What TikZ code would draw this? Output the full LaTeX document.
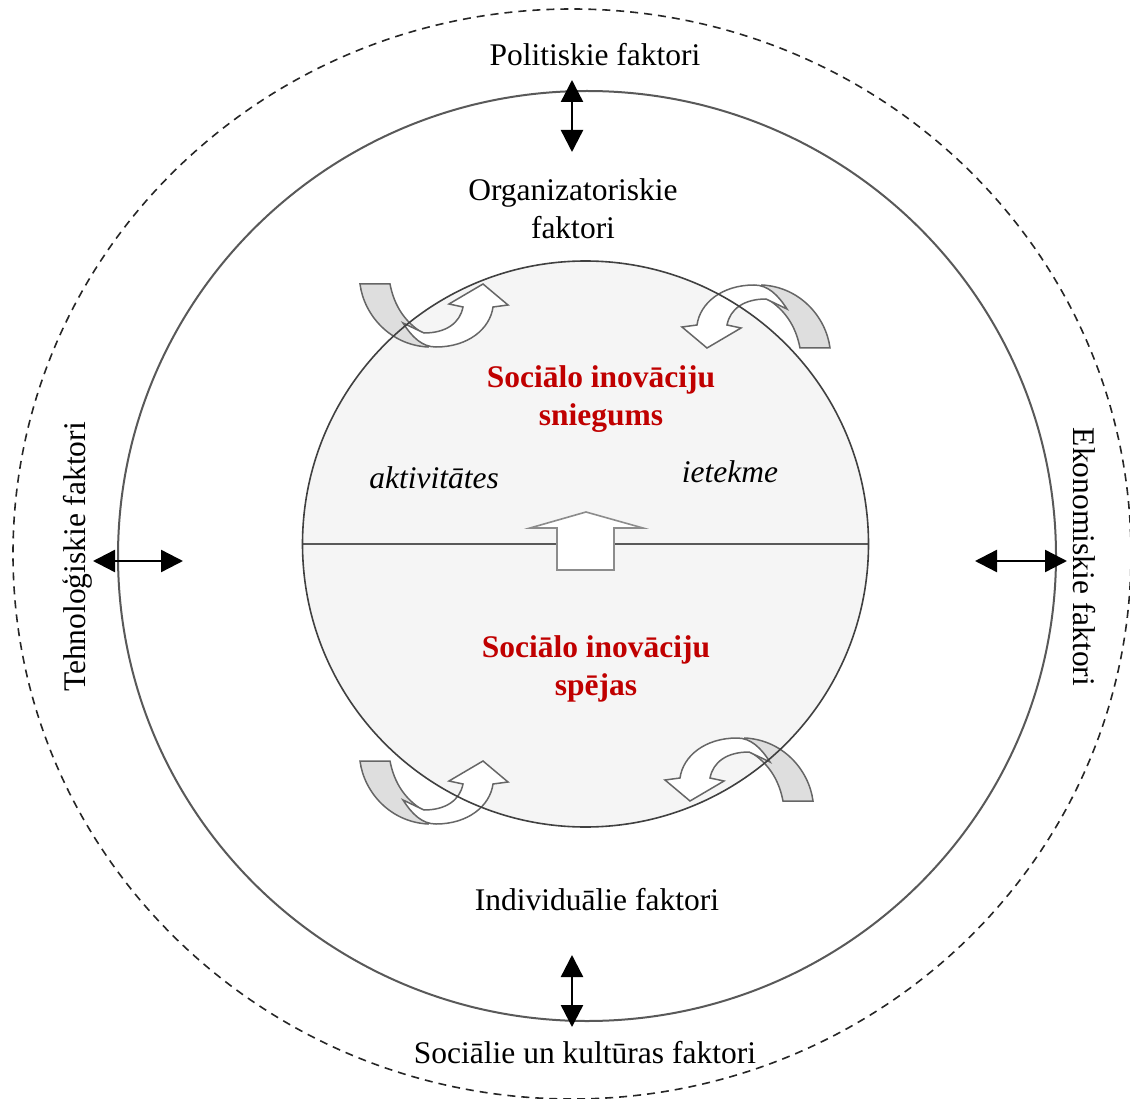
\documentclass[tikz,border=0pt]{standalone}
\usepackage{fontspec}
\setmainfont{Liberation Serif}
\usetikzlibrary{arrows.meta}
\definecolor{perfred}{HTML}{C00000}

\begin{document}
\begin{tikzpicture}[
  x=1pt, y=-1pt,
  every node/.style={align=center, inner sep=2pt, font=\fontsize{31.5}{38}\selectfont},
  factor/.style={fill=white},
  perf/.style={text=perfred, font=\fontsize{31.5}{38}\selectfont\bfseries},
  flow/.style={font=\fontsize{31.5}{38}\selectfont\itshape},
  link/.style={line width=2.4pt, {Triangle[width=22pt,length=22pt]}-{Triangle[width=22pt,length=22pt]}},
  ringline/.style={draw=black!65, line width=2pt},
  coreline/.style={draw=black!75, line width=1.6pt},
  twist/.pic={
    \filldraw[fill=black!13, draw=black!60, line width=1.5pt]
      (-70,-61) -- (-40,-61) .. controls (-36,-40) and (-25,-20) .. (0,-8)
      -- (-2,2) .. controls (-40,0) and (-66,-30) .. cycle;
    \filldraw[fill=white, draw=black!60, line width=1.5pt]
      (-27,-22) .. controls (-18,-8) and (-8,2) .. (6,2)
      .. controls (38,2) and (60,-16) .. (63,-38) -- (78,-40) -- (53,-61)
      -- (19,-41) -- (33,-38) .. controls (30,-22) and (16,-12) .. (-6,-12) -- cycle;
  }
]
\useasboundingbox (0,0) rectangle (1130,1099);

\draw[black!85, line width=1.6pt, dash pattern=on 8pt off 6pt] (572,554) ellipse [x radius=559, y radius=545];
\draw[ringline] (587,556) ellipse [x radius=469, y radius=465];

\node[circle, fill=black!4, minimum size=566pt, inner sep=0pt, outer sep=0pt] (core) at (585.5,544) {};
\draw[black!65, line width=2.2pt] (core.west) -- (core.east);
\filldraw[fill=white, draw=black!45, line width=1.6pt]
  (557,570) -- (557,528) -- (530,528) -- (586,512) -- (643,528) -- (614,528) -- (614,570) -- cycle;

\pic at (430,345) {twist};
\pic at (430,822) {twist};
\pic[rotate=180] at (760,287) {twist};
\pic[rotate=180] at (743,740) {twist};
\draw[coreline] (core.center) circle [radius=283];

\node[factor] (pol) at (595,55) {Politiskie faktori};
\node (org) at (573,209) {Organizatoriskie\\faktori};
\node[perf] (snieg) at (601,399) {Sociālo inovāciju\\sniegums};
\node[flow] (akt) at (434,478) {aktivitātes};
\node[flow] (iet) at (730,472) {ietekme};
\node[perf] (spej) at (596,669) {Sociālo inovāciju\\spējas};
\node (ind) at (597,900) {Individuālie faktori};
\node[factor] (soc) at (585,1053) {Sociālie un kultūras faktori};
\node[rotate=90] (teh) at (77,557) {Tehnoloģiskie faktori};
\node[rotate=-90] (eko) at (1084,557) {Ekonomiskie faktori};

\coordinate (topA) at (572,80);
\coordinate (topB) at (572,152);
\coordinate (botA) at (572,955);
\coordinate (botB) at (572,1027);
\coordinate (lefA) at (93,561);
\coordinate (lefB) at (183,561);
\coordinate (rigA) at (975,561);
\coordinate (rigB) at (1067,561);
\draw[link] (topA) -- (topB);
\draw[link] (botA) -- (botB);
\draw[link] (lefA) -- (lefB);
\draw[link] (rigA) -- (rigB);
\end{tikzpicture}
\end{document}
